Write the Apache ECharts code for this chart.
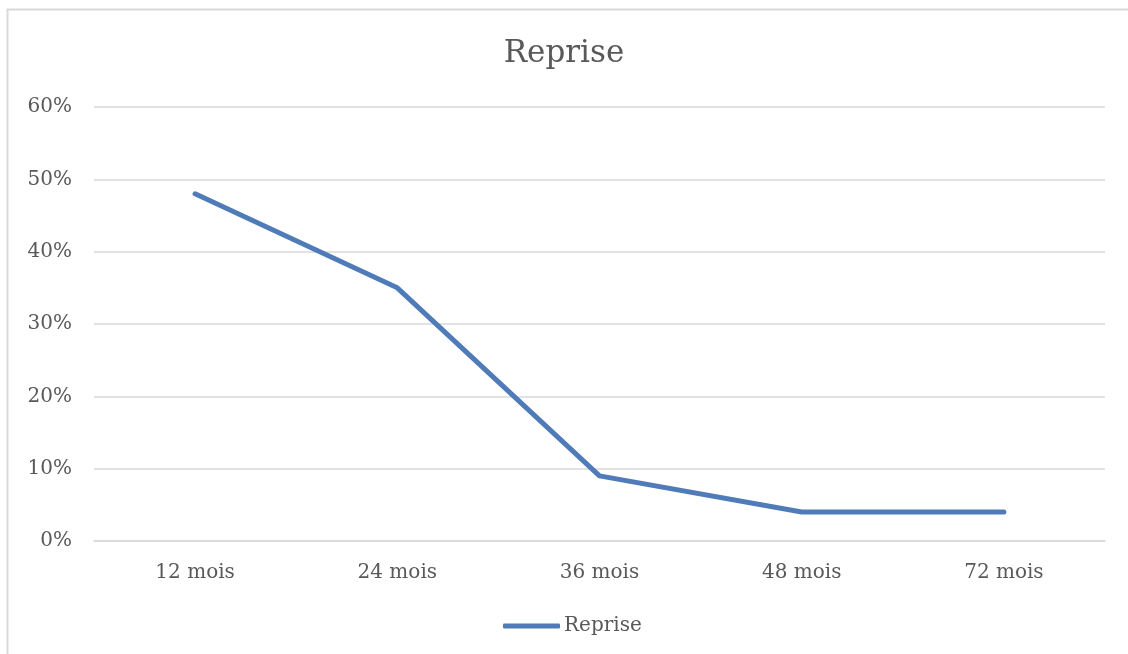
<!DOCTYPE html>
<html><head><meta charset="utf-8">
<script src="https://cdn.jsdelivr.net/npm/echarts@6/dist/echarts.min.js"></script>
<style>html,body{margin:0;padding:0;background:#fff}#c{width:1128px;height:654px}</style>
</head><body><div id="c"></div>
<script>
const categories = ['12 mois', '24 mois', '36 mois', '48 mois', '72 mois'];
const reprise = [0.48, 0.35, 0.09, 0.04, 0.04];
const yTicks = [0, 0.1, 0.2, 0.3, 0.4, 0.5, 0.6];
const font = 'DejaVu Serif';
const chart = echarts.init(document.getElementById('c'));
chart.setOption({
  animation: false,
  graphic: [{type: 'rect', shape: {x: 7.5, y: 9.5, width: 1200, height: 700}, style: {fill: 'none', stroke: '#d9d9d9', lineWidth: 2}, silent: true}],
  title: {text: 'Reprise', left: 'center', top: 33, textStyle: {fontFamily: font, fontSize: 31, fontWeight: 'normal', color: '#595959'}},
  legend: {bottom: 13, left: 498, itemWidth: 57, itemHeight: 5, itemGap: 5,
    textStyle: {fontFamily: font, fontSize: 20, color: '#595959', padding: [0,0,0,-1]},
    data: [{name: 'Reprise', icon: 'roundRect'}]},
  grid: {left: 94, right: 23, top: 107, bottom: 113},
  xAxis: {type: 'category', data: categories, axisLine: {lineStyle: {color: '#d9d9d9', width: 1.5}}, axisTick: {show: false},
    axisLabel: {fontFamily: font, fontSize: 20, color: '#595959', margin: 22}},
  yAxis: {type: 'value', min: 0, max: 0.6, interval: 0.1,
    axisLabel: {fontFamily: font, fontSize: 20, color: '#595959', margin: 22, formatter: v => Math.round(v*100) + '%'},
    splitLine: {lineStyle: {color: '#d9d9d9', width: 1.5}}, axisLine: {show: false}, axisTick: {show: false}},
  series: [{name: 'Reprise', type: 'line', data: reprise, symbol: 'none', lineStyle: {color: '#4f7cb8', width: 5, cap: 'round', join: 'round'}, itemStyle: {color: '#4f7cb8'}}]
});
</script></body></html>
